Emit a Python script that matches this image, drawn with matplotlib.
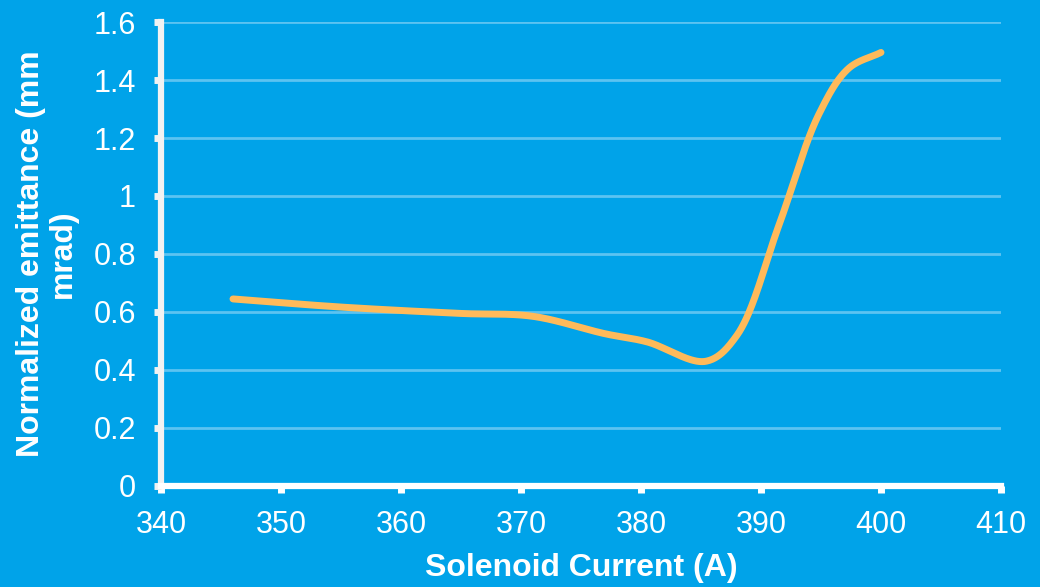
import matplotlib
matplotlib.use('Agg')
import matplotlib.pyplot as plt
import numpy as np
from matplotlib.ticker import FuncFormatter

# measured emittance vs. solenoid current
current = [346, 355, 365, 371, 377, 380.5, 385.4, 388, 391.5, 394.8, 397.3, 400]
emittance = [0.645, 0.617, 0.595, 0.585, 0.525, 0.497, 0.430, 0.520, 0.900, 1.280, 1.440, 1.495]

x_ticks = [340, 350, 360, 370, 380, 390, 400, 410]
y_ticks = [0, 0.2, 0.4, 0.6, 0.8, 1.0, 1.2, 1.4, 1.6]

bg = '#00A3E9'
grid_col = '#5CC3F1'
line_col = '#FFBA5A'
axis_col = '#F2F2F2'


def smooth(x, y, sx=12.0, sy=291.0, n=40, alpha=0.5):
    # centripetal Catmull-Rom, spacing measured in screen-like units
    P = np.column_stack([np.asarray(x, float) * sx, np.asarray(y, float) * sy])
    P = np.vstack([2 * P[0] - P[1], P, 2 * P[-1] - P[-2]])
    pts = []
    for i in range(1, len(P) - 2):
        p0, p1, p2, p3 = P[i - 1], P[i], P[i + 1], P[i + 2]
        t0 = 0.0
        t1 = t0 + np.linalg.norm(p1 - p0) ** alpha
        t2 = t1 + np.linalg.norm(p2 - p1) ** alpha
        t3 = t2 + np.linalg.norm(p3 - p2) ** alpha
        t = np.linspace(t1, t2, n, endpoint=False)[:, None]
        a1 = (t1 - t) / (t1 - t0) * p0 + (t - t0) / (t1 - t0) * p1
        a2 = (t2 - t) / (t2 - t1) * p1 + (t - t1) / (t2 - t1) * p2
        a3 = (t3 - t) / (t3 - t2) * p2 + (t - t2) / (t3 - t2) * p3
        b1 = (t2 - t) / (t2 - t0) * a1 + (t - t0) / (t2 - t0) * a2
        b2 = (t3 - t) / (t3 - t1) * a2 + (t - t1) / (t3 - t1) * a3
        pts.append((t2 - t) / (t2 - t1) * b1 + (t - t1) / (t2 - t1) * b2)
    pts.append(P[-2][None, :])
    pts = np.vstack(pts)
    return pts[:, 0] / sx, pts[:, 1] / sy


plt.rcParams['font.family'] = ['Liberation Sans', 'DejaVu Sans']

fig = plt.figure(figsize=(10.4, 5.87), dpi=100, facecolor=bg)
ax = fig.add_axes([0.1548, 0.1721, 0.8077, 0.7904])
ax.set_facecolor(bg)

cx, cy = smooth(current, emittance)
ax.plot(cx, cy, color=line_col, linewidth=5, solid_capstyle='round', zorder=3)

ax.set_xlim(340, 410)
ax.set_ylim(0, 1.6)
ax.set_xticks(x_ticks)
ax.set_yticks(y_ticks)
ax.yaxis.set_major_formatter(FuncFormatter(lambda v, p: f'{v:g}'))

ax.grid(axis='y', color=grid_col, linewidth=2, zorder=1)
ax.set_axisbelow(True)

for s in ['top', 'right']:
    ax.spines[s].set_visible(False)
ax.spines['left'].set_color(axis_col)
ax.spines['left'].set_linewidth(4.5)
ax.spines['bottom'].set_color('white')
ax.spines['bottom'].set_linewidth(4.5)

ax.tick_params(axis='x', colors='white', labelsize=22, length=5, width=5, direction='out', pad=12)
ax.tick_params(axis='y', colors=axis_col, labelcolor='white', labelsize=22, length=5, width=5, direction='out', pad=13)

ax.set_xlabel('Solenoid Current (A)', color='white', fontsize=23, fontweight='bold', labelpad=10)
ax.set_ylabel('Normalized emittance (mm\nmrad)', color='white', fontsize=23, fontweight='bold',
              linespacing=1.1)
ax.yaxis.set_label_coords(-0.099, 0.5)

fig.savefig('out.png', dpi=100, facecolor=bg)
